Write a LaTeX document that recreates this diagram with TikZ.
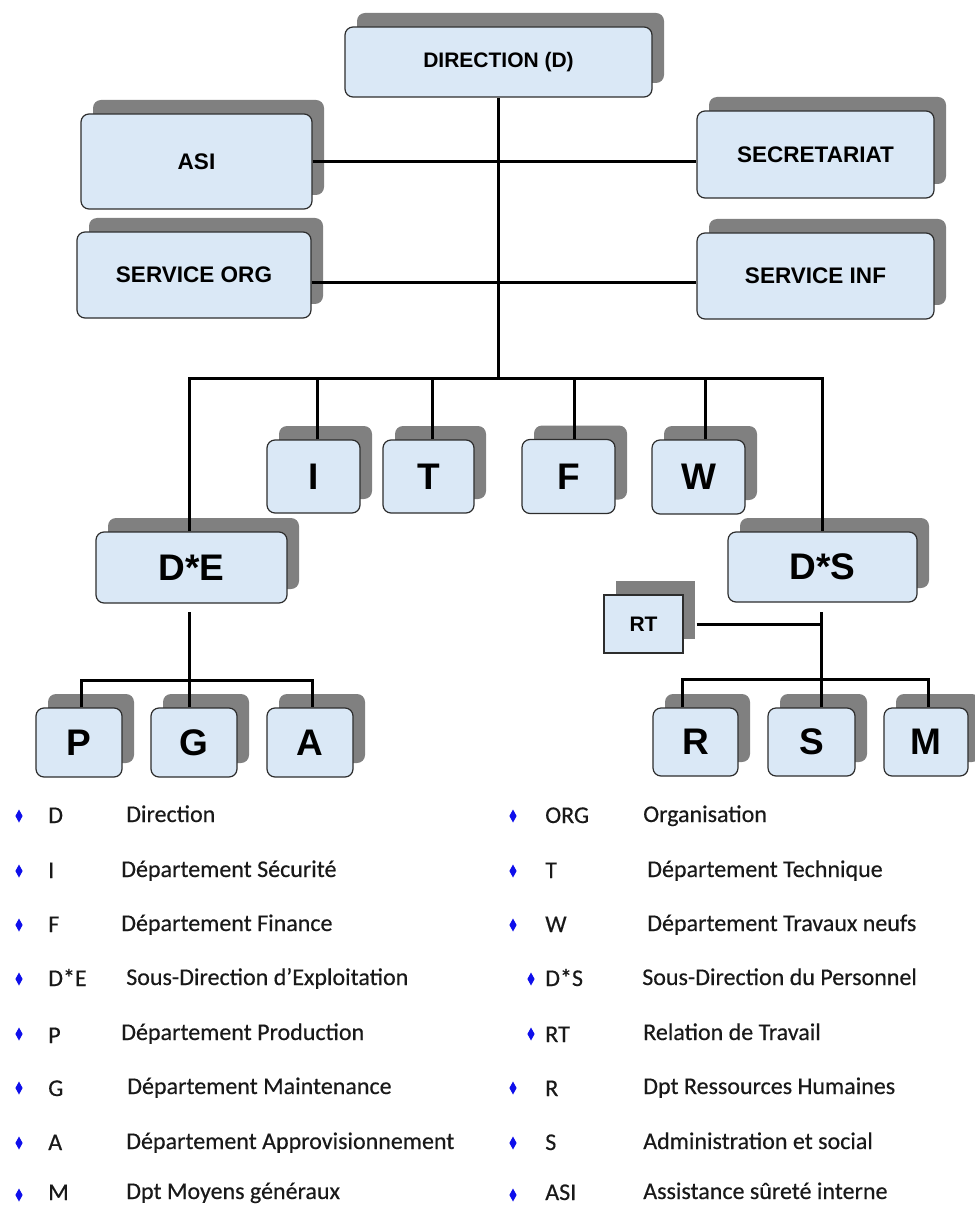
\documentclass[tikz,border=0pt]{standalone}
\usepackage{fontspec}
\setmainfont{Carlito}[FakeBold=0.4]
\newfontfamily\labelfont{Liberation Sans}
\usetikzlibrary{shadows}

\definecolor{boxfill}{RGB}{218,232,246}
\definecolor{boxedge}{RGB}{45,45,45}
\definecolor{shadowgray}{RGB}{128,128,128}
\definecolor{bullet}{RGB}{15,15,235}

\tikzset{
  size/.style 2 args={minimum width=#1*0.75pt, minimum height=#2*0.75pt},
  orgbox/.style={draw=boxedge, line width=0.9pt, fill=boxfill,
    rounded corners=6pt, inner sep=0pt,
    general shadow={fill=shadowgray, shadow xshift=9pt, shadow yshift=10.5pt},
    font=\labelfont\bfseries\fontsize{16.9}{18}\selectfont},
  bigbox/.style={orgbox, font=\labelfont\bfseries\fontsize{27.75}{30}\selectfont},
  rtbox/.style={orgbox, rounded corners=0pt, font=\labelfont\bfseries\fontsize{15.75}{17}\selectfont},
  conn/.style={draw=black, line width=2.25pt, line join=miter},
  legtext/.style={anchor=base west, inner sep=0pt, text=black!90, font=\fontsize{18}{20}\selectfont},
  bul/.pic={\fill[bullet] (0,-6.5) -- (3.6,0) -- (0,6.5) -- (-3.6,0) -- cycle;}
}

\begin{document}
\begin{tikzpicture}[x=0.75pt, y=-0.75pt]
\useasboundingbox (0,0) rectangle (974,1205);

% --- top level and staff services
\node[orgbox, size={307}{70}, font=\labelfont\bfseries\fontsize{15.75}{17}\selectfont] (dir) at (498.5,62) {DIRECTION (D)};
\node[orgbox, size={231}{95}] (asi)  at (196.5,161.5) {ASI};
\node[orgbox, size={234}{86}] (sorg) at (194,275)     {SERVICE ORG};
\node[orgbox, size={237}{87}] (sec)  at (815.5,154.5) {SECRETARIAT};
\node[orgbox, size={237}{86}] (sinf) at (815.5,276)   {SERVICE INF};

% --- departments
\node[bigbox, size={93}{73}] (I) at (313.5,476.5) {I};
\node[bigbox, size={91}{73}] (T) at (428.5,476.5) {T};
\node[bigbox, size={93}{74}] (F) at (568.5,476.5) {F};
\node[bigbox, size={93}{74}] (W) at (698.5,477)   {W};

% --- sub-directions
\node[bigbox, size={191}{71}] (DE) at (191.5,567.5) {D*E};
\node[bigbox, size={189}{70}] (DS) at (822.5,567)   {D*S};
\node[rtbox,  size={79}{58}]  (RT) at (643.5,624)   {RT};

\node[bigbox, size={86}{69}] (P) at (79,742.5)  {P};
\node[bigbox, size={86}{69}] (G) at (194,742.5) {G};
\node[bigbox, size={86}{69}] (A) at (310,742.5) {A};
\node[bigbox, size={85}{68}] (R) at (695.5,742) {R};
\node[bigbox, size={87}{68}] (S) at (811.5,742) {S};
\node[bigbox, size={84}{68}] (M) at (926,742)   {M};

% --- junction points
\coordinate (hub)  at (498,378);
\coordinate (barL) at (189,378);
\coordinate (barR) at (822,378);
\coordinate (jI)   at (317,378);
\coordinate (jT)   at (432,378);
\coordinate (jF)   at (574,378);
\coordinate (jW)   at (705,378);
\coordinate (yA)   at (0,162);
\coordinate (yB)   at (0,283);

\coordinate (deTop) at (189,612);
\coordinate (deBar) at (189,680);
\coordinate (pJ)    at (81,680);
\coordinate (aJ)    at (312,680);

\coordinate (dsTop) at (821,612);
\coordinate (dsBar) at (821,679);
\coordinate (rJ)    at (682,679);
\coordinate (mJ)    at (928,679);
\coordinate (rtJ)   at (821,624);

% --- connectors
\draw[conn] (dir.south -| hub) -- (hub);
\draw[conn] (asi.east |- yA) -- (sec.west |- yA);
\draw[conn] (sorg.east |- yB) -- (sinf.west |- yB);
\draw[conn] (DE.north -| barL) |- (barR) -- (DS.north -| barR);
\draw[conn] (I.north -| jI) -- (jI);
\draw[conn] (T.north -| jT) -- (jT);
\draw[conn] (F.north -| jF) -- (jF);
\draw[conn] (W.north -| jW) -- (jW);

\draw[conn] (deTop) -- (deBar);
\draw[conn] (P.north -| pJ) |- (aJ) -- (A.north -| aJ);
\draw[conn] (G.north -| deBar) -- (deBar);

\draw[conn] (dsTop) -- (dsBar);
\draw[conn] (R.north -| rJ) |- (mJ) -- (M.north -| mJ);
\draw[conn] (S.north -| dsBar) -- (dsBar);
\draw[conn] ([xshift=9.75pt]RT.east |- rtJ) -- (rtJ);

% --- legend, left column
\foreach \yy in {816,871,925,979,1034,1088,1143,1195} { \pic at (19,\yy) {bul}; }
\node[legtext] (kD)  at (48,823)  {D};
\node[legtext] (tD)  at (126,822) {Direction};
\node[legtext] (kI)  at (48,878)  {I};
\node[legtext] (tI)  at (121,877) {Département Sécurité};
\node[legtext] (kF)  at (48,932)  {F};
\node[legtext] (tF)  at (121,931) {Département Finance};
\node[legtext] (kDE) at (48,986)  {D*E};
\node[legtext] (tDE) at (126,985) {Sous-Direction d’Exploitation};
\node[legtext] (kP)  at (48,1043) {P};
\node[legtext] (tP)  at (121,1040) {Département Production};
\node[legtext] (kG)  at (48,1096) {G};
\node[legtext] (tG)  at (127,1094) {Département Maintenance};
\node[legtext] (kA)  at (48,1150) {A};
\node[legtext] (tA)  at (126,1149) {Département Approvisionnement};
\node[legtext] (kM)  at (48,1200) {M};
\node[legtext] (tM)  at (126,1199) {Dpt Moyens généraux};

% --- legend, right column
\foreach \xx/\yy in {513/816,513/871,513/925,531/979,531/1034,513/1088,513/1143,513/1195} { \pic at (\xx,\yy) {bul}; }
\node[legtext] (kORG) at (545,823)  {ORG};
\node[legtext] (tORG) at (643,822)  {Organisation};
\node[legtext] (kT)   at (545,878)  {T};
\node[legtext] (tT)   at (647,877)  {Département Technique};
\node[legtext] (kW)   at (545,932)  {W};
\node[legtext] (tW)   at (647,931)  {Département Travaux neufs};
\node[legtext] (kDS)  at (545,986)  {D*S};
\node[legtext] (tDS)  at (642,985)  {Sous-Direction du Personnel};
\node[legtext] (kRT)  at (545,1042) {RT};
\node[legtext] (tRT)  at (643,1040) {Relation de Travail};
\node[legtext] (kR)   at (545,1096) {R};
\node[legtext] (tR)   at (643,1094) {Dpt Ressources Humaines};
\node[legtext] (kS)   at (545,1150) {S};
\node[legtext] (tS)   at (643,1149) {Administration et social};
\node[legtext] (kASI) at (545,1200) {ASI};
\node[legtext] (tASI) at (643,1199) {Assistance sûreté interne};
\end{tikzpicture}
\end{document}
